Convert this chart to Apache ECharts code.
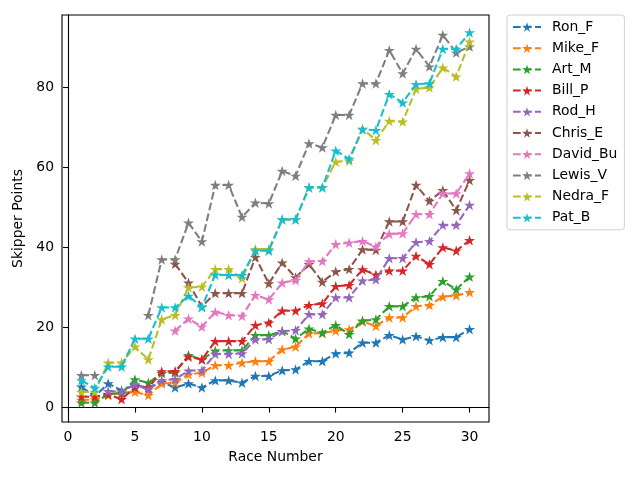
<!DOCTYPE html>
<html>
<head>
<meta charset="utf-8">
<script src="https://cdn.jsdelivr.net/npm/echarts@6/dist/echarts.min.js"></script>
<style>html,body{margin:0;padding:0;background:#fff}#c{width:640px;height:480px}</style>
</head>
<body>
<div id="c"></div>
<script>
const races = [1,2,3,4,5,6,7,8,9,10,11,12,13,14,15,16,17,18,19,20,21,22,23,24,25,26,27,28,29,30];
const xTicks = [0,5,10,15,20,25,30];
const yTicks = [0,20,40,60,80];
const names = ['Ron_F','Mike_F','Art_M','Bill_P','Rod_H','Chris_E','David_Bu','Lewis_V','Nedra_F','Pat_B'];
const Ron_F = [5.2,2.8,6.0,4.3,5.6,5.0,6.4,5.0,6.0,5.0,6.8,6.8,6.2,7.9,7.9,9.3,9.5,11.6,11.6,13.5,13.7,16.2,16.2,18.1,17.0,17.8,16.8,17.6,17.6,19.6];
const Mike_F = [1.9,2.0,3.1,3.7,3.9,3.1,6.0,6.2,8.3,8.7,10.6,10.6,11.2,11.6,11.6,14.5,15.2,18.5,18.6,19.2,19.5,21.5,20.4,22.5,22.5,25.3,25.6,27.7,28.0,28.8];
const Art_M = [1.2,1.2,3.4,3.6,7.0,6.2,8.6,8.7,13.1,12.0,14.2,14.3,14.3,18.1,18.1,19.1,17.2,19.7,18.7,20.6,18.3,21.7,22.0,25.3,25.3,27.5,27.8,31.6,29.5,32.7];
const Bill_P = [2.7,2.7,3.3,2.1,5.0,5.0,9.0,9.1,12.7,12.0,16.6,16.6,16.6,20.6,21.2,24.2,24.2,25.6,26.0,30.3,30.6,34.5,33.2,34.2,34.2,37.9,35.8,40.0,39.2,41.8];
const Rod_H = [null,null,4.1,4.0,5.8,4.5,6.8,7.1,9.2,9.3,13.4,13.4,13.5,17.0,17.1,19.1,19.3,23.3,23.3,27.5,27.5,31.7,32.0,37.3,37.3,41.3,41.6,45.6,45.6,50.6];
const Chris_E = [null,null,null,null,null,null,null,35.9,31.2,25.2,28.6,28.6,28.6,37.6,31.0,36.2,32.5,35.8,31.4,34.0,34.6,39.5,39.4,46.5,46.5,55.6,51.6,54.3,49.3,56.8];
const David_Bu = [null,null,null,null,null,null,null,19.2,22.2,20.2,23.9,23.1,22.9,28.1,27.0,31.2,31.8,36.5,36.6,40.8,41.2,41.6,40.2,43.4,43.5,48.3,48.3,53.5,53.5,58.5];
const Lewis_V = [8.1,8.1,null,null,null,23.1,37.0,37.0,46.2,41.5,55.6,55.6,47.6,51.2,51.0,59.1,57.9,66.0,65.0,73.1,73.1,81.0,81.0,89.3,83.5,89.6,85.2,93.1,88.7,90.2];
const Nedra_F = [3.9,3.9,11.2,11.2,15.2,12.0,22.0,23.1,30.0,30.2,34.6,34.6,32.3,39.6,39.6,47.0,47.0,55.0,55.0,61.4,61.7,69.7,66.8,71.6,71.4,79.6,80.0,84.9,82.7,91.4];
const Pat_B = [6.8,4.9,10.2,10.2,17.2,17.2,25.0,25.0,27.9,25.1,33.2,33.1,33.1,39.2,39.2,47.0,47.0,55.0,55.0,64.2,62.1,69.5,69.3,78.3,76.2,80.8,81.0,89.6,89.6,93.7];
const values = [Ron_F,Mike_F,Art_M,Bill_P,Rod_H,Chris_E,David_Bu,Lewis_V,Nedra_F,Pat_B];
const colors = ['#1f77b4','#ff7f0e','#2ca02c','#d62728','#9467bd','#8c564b','#e377c2','#7f7f7f','#bcbd22','#17becf'];

const star = 'path://M50 0 L61.23 34.55 L97.55 34.55 L68.17 55.9 L79.39 90.45 L50 69.1 L20.61 90.45 L31.83 55.9 L2.45 34.55 L38.77 34.55 Z';
const font = 'DejaVu Sans';

const series = names.map((n, i) => ({
  name: n,
  type: 'line',
  data: races.map((r, j) => [r, values[i][j]]),
  connectNulls: false,
  symbol: star,
  symbolSize: 11,
  symbolKeepAspect: true,
  showAllSymbol: true,
  color: colors[i],
  lineStyle: { width: 2.08, type: [7.7, 3.3], color: colors[i] },
  itemStyle: { color: colors[i] },
  emphasis: { disabled: true },
  animation: false,
  z: 2 + i
}));

const chart = echarts.init(document.getElementById('c'), null, { renderer: 'canvas' });
chart.setOption({
  animation: false,
  backgroundColor: '#fff',
  textStyle: { fontFamily: font },
  grid: { left: 62, right: 151, top: 15, bottom: 58, show: true, borderColor: '#000', borderWidth: 1.1, backgroundColor: 'transparent' },
  xAxis: {
    type: 'value', min: -0.45, max: 31.45,
    name: 'Race Number', nameLocation: 'middle', nameGap: 28,
    nameTextStyle: { fontFamily: font, fontSize: 13.9, color: '#000' },
    axisLine: { show: true, lineStyle: { color: '#000', width: 1.1 } },
    axisTick: { show: true, length: 5, lineStyle: { color: '#000', width: 1.1 }, customValues: xTicks },
    axisLabel: { fontFamily: font, fontSize: 13.9, color: '#000', margin: 8, customValues: xTicks },
    splitLine: { show: false }
  },
  yAxis: {
    type: 'value', min: -3.6, max: 98.1,
    name: 'Skipper Points', nameLocation: 'middle', nameGap: 30, nameRotate: 90,
    nameTextStyle: { fontFamily: font, fontSize: 13.9, color: '#000' },
    axisLine: { show: true, lineStyle: { color: '#000', width: 1.1 } },
    axisTick: { show: true, length: 5, lineStyle: { color: '#000', width: 1.1 }, customValues: yTicks },
    axisLabel: { fontFamily: font, fontSize: 13.9, color: '#000', margin: 8, customValues: yTicks },
    splitLine: { show: false }
  },
  legend: {
    orient: 'vertical', left: 507, top: 15,
    data: names,
    itemWidth: 28, itemHeight: 12, itemGap: 7.2,
    padding: [5, 7, 5, 5],
    borderColor: '#d0d0d0', borderWidth: 1, borderRadius: 3,
    backgroundColor: 'rgba(255,255,255,0.8)',
    textStyle: { fontFamily: font, fontSize: 13.9, color: '#000', padding: [0, 0, 0, 6] },
    selectedMode: false
  },
  series: series
});
</script>
</body>
</html>
